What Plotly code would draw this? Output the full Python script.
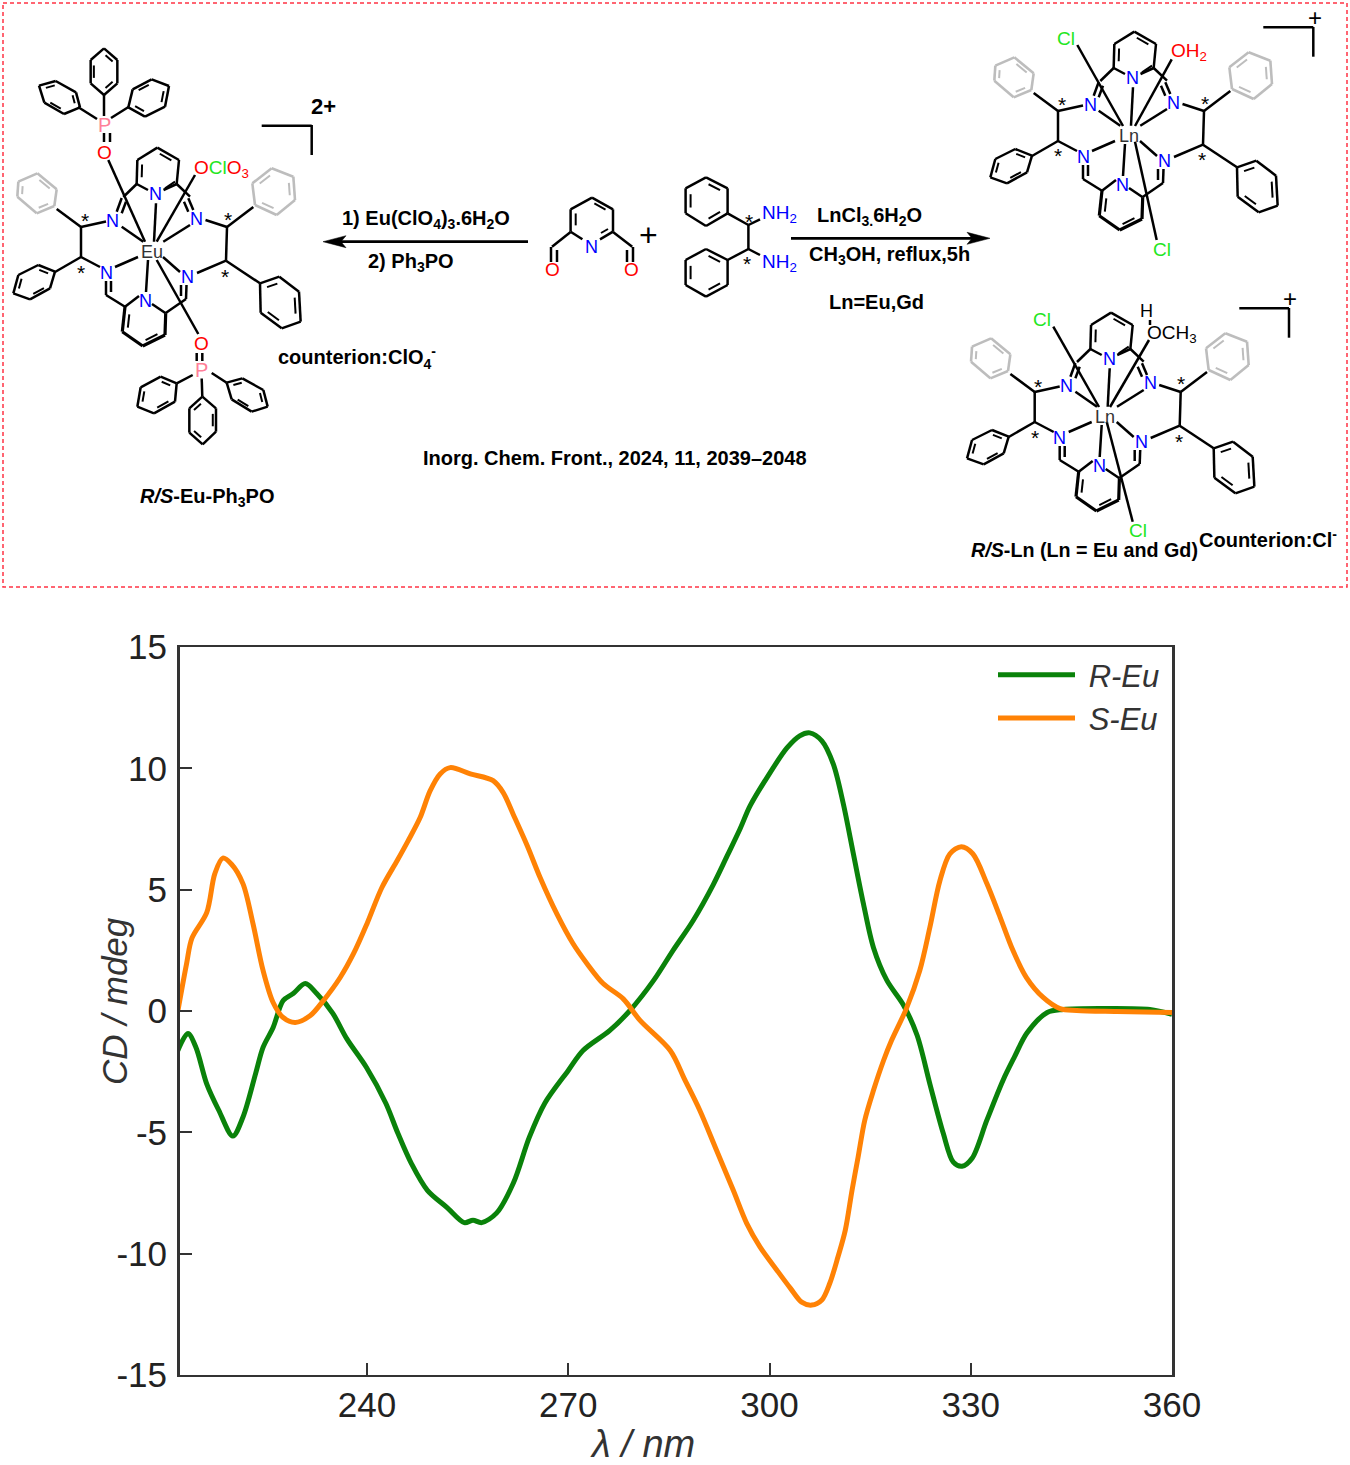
import plotly.graph_objects as go

W, H = 1350, 1465

# CD spectra
WAVELENGTH_R = [211.8, 213.3, 214.5, 216.1, 217.9, 220.0, 221.5, 223.4, 224.5, 226.0, 227.5, 229.0, 230.8, 232.5,
                234.9, 237.0, 239.9, 242.8, 244.6, 246.6, 249.0, 251.9, 254.5, 255.8, 257.1, 259.3, 261.8, 264.2, 266.5,
                270.0, 272.2, 276.2, 279.2, 282.7, 285.6, 288.6, 291.6, 293.7, 295.6, 297.1, 299.6, 302.6,
                304.5, 306.0, 307.8, 309.5, 311.0, 312.5, 314.0, 315.5, 317.5, 320.0, 322.0, 323.9, 325.9, 327.4,
                328.7, 330.2, 332.4, 334.8, 336.5, 338.4, 341.4, 343.8, 349.3, 356.7, 360.0]
CD_R = [-1.63, -0.93, -1.5, -3.0, -4.09, -5.15, -4.38, -2.57, -1.5, -0.68, 0.43, 0.72, 1.13, 0.72,
        -0.1, -1.15, -2.32, -3.8, -5.04, -6.28, -7.39, -8.09, -8.72, -8.62, -8.72, -8.33, -7.1, -5.2, -3.8,
        -2.45, -1.63, -0.8, 0.02, 1.25, 2.49, 3.72, 5.2, 6.4, 7.5, 8.45, 9.61, 10.84,
        11.34, 11.46, 11.13, 10.18, 8.54, 6.48, 4.42, 2.61, 1.26, 0.23, -1.0, -3.0, -5.04, -6.23,
        -6.4, -6.07, -4.5, -2.86, -1.9, -0.9, -0.06, 0.06, 0.1, 0.06, -0.14]

WAVELENGTH_S = [211.8, 213.1, 213.9, 216.1, 217.3, 218.5, 219.8, 221.5, 223.0, 224.5, 226.0, 227.5, 229.3, 231.5,
                233.5, 236.0, 238.0, 240.0, 242.2, 244.5, 246.1, 247.9, 249.4, 250.9, 252.4, 255.4, 258.8, 260.3,
                261.8, 263.9, 265.8, 268.3, 270.7, 272.8, 275.2, 278.2, 280.7, 285.2, 287.4, 289.6, 292.1,
                294.6, 296.6, 298.6, 301.1, 303.1, 304.8, 306.3, 307.8, 309.0, 310.2, 311.3, 312.3, 313.2, 314.2,
                315.5, 317.0, 318.2, 320.4, 322.4, 323.9, 325.4, 326.9, 328.6, 330.3, 332.4, 334.4, 336.3, 338.3,
                340.8, 343.3, 345.8, 351.8, 360.0]
CD_S = [0.0, 1.95, 3.0, 4.05, 5.65, 6.3, 6.05, 5.25, 3.6, 1.67, 0.35, -0.27, -0.47, -0.2,
        0.43, 1.38, 2.37, 3.6, 5.08, 6.2, 7.0, 7.96, 9.07, 9.77, 10.03, 9.77, 9.49, 9.0,
        8.1, 6.8, 5.5, 4.0, 2.78, 1.95, 1.13, 0.5, -0.39, -1.63, -2.85, -4.09, -5.74,
        -7.39, -8.75, -9.73, -10.68, -11.42, -12.0, -12.12, -11.91, -11.21, -10.14, -9.03, -7.39, -6.03, -4.5,
        -3.27, -2.04, -1.21, 0.1, 1.67, 3.44, 5.37, 6.48, 6.77, 6.48, 5.25, 3.85, 2.49, 1.38,
        0.56, 0.1, 0.02, -0.02, -0.06]

X_TICKS = [240, 270, 300, 330, 360]
X_TICK_LABELS = ["240", "270", "300", "330", "360"]
Y_TICKS = [-15, -10, -5, 0, 5, 10, 15]
Y_TICK_LABELS = ["-15", "-10", "-5", "0", "5", "10", "15"]

GREEN = "#0a820a"
ORANGE = "#ff8205"
BLUE = "#0000ff"
RED = "#ff0000"
LIME = "#22e622"
PINK = "#ff8098"
GRAY = "#bdbdbd"
FONT = "Liberation Sans"
BOND = 2.5


def px(x):
    return x / W


def py(y):
    return 1 - y / H


shapes = []
annotations = []


def bond(x0, y0, x1, y1, color="black", width=BOND):
    shapes.append(dict(type="line", xref="paper", yref="paper",
                       x0=px(x0), y0=py(y0), x1=px(x1), y1=py(y1),
                       line=dict(color=color, width=width)))


def ring(verts, doubles=(0, 2, 4), color="black", width=BOND, closed=True):
    """Draw a hexagon from its vertices, with inner lines on the given edges."""
    cx = sum(v[0] for v in verts) / len(verts)
    cy = sum(v[1] for v in verts) / len(verts)
    n = len(verts)
    edges = n if closed else n - 1
    for i in range(edges):
        a, b = verts[i], verts[(i + 1) % n]
        bond(a[0], a[1], b[0], b[1], color, width)
    for i in doubles:
        a, b = verts[i], verts[(i + 1) % n]
        a2 = (cx + (a[0] - cx) * 0.76, cy + (a[1] - cy) * 0.76)
        b2 = (cx + (b[0] - cx) * 0.76, cy + (b[1] - cy) * 0.76)
        ma = (a2[0] * 0.85 + b2[0] * 0.15, a2[1] * 0.85 + b2[1] * 0.15)
        mb = (a2[0] * 0.15 + b2[0] * 0.85, a2[1] * 0.15 + b2[1] * 0.85)
        bond(ma[0], ma[1], mb[0], mb[1], color, min(width, BOND) * 0.8)


def label(x, y, text, size=18, color="black", anchor="center", bold=False):
    if bold:
        text = "<b>" + text + "</b>"
    annotations.append(dict(x=px(x), y=py(y), xref="paper", yref="paper", text=text, showarrow=False,
                            xanchor=anchor, yanchor="middle", align="left",
                            borderpad=0, font=dict(family=FONT, size=size, color=color)))


def arrow_head(tx, ty, direction):
    # filled notched head, direction is +1 for right and -1 for left
    pts = [(tx, ty), (tx - direction * 23, ty - 6), (tx - direction * 18, ty), (tx - direction * 23, ty + 6)]
    path = "M" + " L".join(f"{px(a):.5f},{py(b):.5f}" for a, b in pts) + " Z"
    shapes.append(dict(type="path", xref="paper", yref="paper", path=path,
                       fillcolor="black", line=dict(color="black", width=0.5)))


def third(pts, oy=0.0):
    # zoomed reading -> page pixels
    return [(a / 3, oy + b / 3) for a, b in pts]


def macrocycle(dx, dy, metal):
    """The Schiff-base ring. Coordinates read on the Eu complex, shifted for the others."""
    def s(pts):
        return [(a + dx, b + dy) for a, b in pts]

    def b(x0, y0, x1, y1, color="black", width=BOND):
        bond(x0 + dx, y0 + dy, x1 + dx, y1 + dy, color, width)

    # top pyridine
    ring(s(third([(410, 552), (412, 480), (472, 443), (537, 480), (530, 552)])), doubles=(0, 2), closed=False)
    b(136.7, 184, 148, 190)
    b(176.7, 184, 163.5, 190)
    b(175, 181.7, 165, 188.3, width=2)
    # imines, top
    b(136.7, 184, 123.3, 197)
    b(121.7, 198, 116.7, 211.7)
    b(126, 201.7, 121.7, 213.3)
    b(176.7, 184, 190, 196.7)
    b(188.3, 198.3, 193.3, 210)
    b(184, 201.7, 188.3, 211.7)
    # grey phenyls
    ring(s(third([(52, 590), (55, 545), (112, 520), (170, 568), (163, 618), (110, 640)])), color=GRAY, width=2.6)
    ring(s(third([(757, 550), (815, 505), (880, 530), (885, 600), (830, 645), (765, 615)])), color=GRAY, width=2.6)
    # backbone
    b(56.7, 209, 81, 227)
    b(81, 227, 106, 221.5)
    b(81, 227, 81, 257)
    b(81, 257, 100, 267)
    b(81, 257, 55, 272)
    b(227, 227, 205.5, 220)
    b(227, 227, 226, 260.7)
    b(227, 227, 253.3, 207)
    b(226, 260.7, 197, 273)
    b(226, 260.7, 260, 283.3)
    # black phenyls
    ring(s(third([(165, 815), (115, 795), (55, 825), (40, 880), (90, 898), (150, 865)])))
    ring(s(third([(780, 850), (838, 830), (897, 875), (902, 965), (845, 985), (782, 938)])))
    # lower imines and pyridine
    b(106, 281, 106, 295)
    b(111, 281, 111, 292)
    b(106, 295, 125, 306.7)
    b(186.5, 285, 186, 299)
    b(181, 285, 181, 296)
    b(186, 299, 165.7, 313)
    ring(s([(125, 306.7), (122.3, 331.7), (142.7, 346), (165, 335), (165.7, 313.3)]), doubles=(0, 2), width=3.2, closed=False)
    b(125, 306.7, 139, 296)
    b(165.7, 313.3, 152, 304)
    # metal to ring nitrogens
    b(121.7, 226.7, 143.3, 241.7)
    b(156, 203.3, 154, 241.7)
    b(190, 225, 163.3, 241.7)
    b(115, 267, 138, 257)
    b(163, 257, 180, 272)
    b(148, 260, 146, 292)
    # labels
    for x, y in [(155.7, 194), (113, 220.7), (196.7, 218.5), (106, 273), (187.3, 277.3), (145.5, 300.7)]:
        label(x + dx, y + dy, "N", 18, BLUE)
    for x, y in [(84.5, 221), (227.5, 219), (81, 272), (225, 276)]:
        label(x + dx, y + dy, "*", 21)
    label(151.5 + dx, 252 + dy, metal, 18, "#333333")


# frame of the scheme
shapes.append(dict(type="rect", xref="paper", yref="paper", x0=px(3), y0=py(3), x1=px(1347), y1=py(587),
                   line=dict(color="#ff3344", width=1.5, dash="4px,3px")))

# Eu-Ph3PO complex
macrocycle(0, 0, "Eu")
ring(third([(312, 145), (352, 180), (352, 250), (312, 285), (272, 250), (272, 180)]), doubles=(0, 2, 4))
ring(third([(117, 257), (167, 243), (228, 277), (240, 322), (192, 342), (133, 308)]), doubles=(0, 2, 4))
ring(third([(385, 322), (435, 350), (495, 320), (507, 258), (455, 238), (398, 268)]), doubles=(0, 2, 4))
bond(104, 95, 104, 116)
bond(78, 107, 97, 119)
bond(128.5, 107, 111, 118)
bond(104, 133, 104, 142)
bond(110, 133, 110, 142)
bond(108.3, 160, 145, 241.7)
bond(195, 175, 156.7, 241.7)
bond(156.7, 260, 198.3, 334)
label(104, 125, "P", 20, PINK)
label(104, 152.5, "O", 19, RED)
label(193, 169, f'<span style="color:{RED}">O</span><span style="color:{LIME}">Cl</span>'
      f'<span style="color:{RED}">O<sub>3</sub></span>', 19, anchor="left")
bond(261.7, 125.7, 311.7, 125.7)
bond(311.7, 125, 311.7, 155)
label(323, 106, "2+", 22, bold=True)

ring(third([(530, 280), (482, 260), (422, 292), (412, 350), (462, 370), (525, 335)], 290), doubles=(0, 2, 4))
ring(third([(680, 278), (727, 265), (790, 300), (803, 350), (755, 365), (695, 328)], 290), doubles=(0, 2, 4))
ring(third([(607, 320), (648, 355), (648, 425), (608, 463), (568, 428), (568, 355)], 290), doubles=(1, 3, 5))
bond(192.7, 375, 176.7, 383.3)
bond(211.7, 373, 226.7, 382.7)
bond(201.7, 378.5, 202.3, 396.7)
bond(196.7, 353, 196.7, 361)
bond(202.3, 353, 202.3, 361)
label(201.7, 343, "O", 19, RED)
label(201.7, 370, "P", 20, PINK)

# Ln complex with Cl / OH2
macrocycle(977, -116, "Ln")
bond(1077.3, 45, 1123, 126)
bond(1171.7, 59.3, 1135, 126)
bond(1135, 141.7, 1156.7, 240)
label(1066, 38.5, "Cl", 19, LIME)
label(1169.5, 52, "OH<sub>2</sub>", 19, RED, anchor="left")
label(1161.5, 249.5, "Cl", 19, LIME)
bond(1263.3, 27.3, 1313.3, 27.3)
bond(1313.3, 27, 1313.3, 56.7)
label(1314.5, 17.5, "+", 24)

# Ln complex with Cl / CH3OH
macrocycle(953.7, 165, "Ln")
bond(1053.3, 326.7, 1099, 407)
bond(1149, 340, 1110, 407)
bond(1106.7, 421.7, 1132.7, 521.7)
bond(1150, 320, 1150, 325)
label(1041.5, 319.5, "Cl", 19, LIME)
label(1146.5, 311, "H", 18)
label(1145.5, 334, "OCH<sub>3</sub>", 19, anchor="left")
label(1137.5, 530, "Cl", 19, LIME)
bond(1239.3, 308.3, 1289, 308.3)
bond(1289, 308, 1289, 337.7)
label(1289.5, 299, "+", 24)

# pyridine dialdehyde
ring([(570.6, 231.7), (570.6, 209.3), (592, 197.7), (613, 209.3), (613, 231.7)], doubles=(0, 2), closed=False)
bond(570.6, 231.7, 582.4, 239.3)
bond(613, 231.7, 600, 239.3)
bond(608, 229, 601, 233, width=2)
bond(570.6, 232, 552, 246.7)
bond(613, 232, 632.2, 246.7)
bond(551, 247, 551, 262)
bond(557, 250, 557, 262)
bond(633, 247, 633, 262)
bond(627, 250, 627, 262)
label(591, 246.5, "N", 18, BLUE)
label(552, 270, "O", 19, RED)
label(631, 270, "O", 19, RED)
label(648.5, 235, "+", 32)

# diphenylethylenediamine
ring([(706, 177.3), (727.6, 188.3), (727.6, 213.3), (706, 226), (685.6, 213.3), (685.6, 188.3)], doubles=(0, 2, 4))
ring([(706, 249), (727.6, 260), (727.6, 285), (706, 296.7), (685.6, 285), (685.6, 260)], doubles=(0, 2, 4))
bond(727.6, 213.3, 748.4, 225)
bond(748.4, 225, 748.4, 249)
bond(748.4, 249, 727.6, 260)
bond(748.4, 225, 760, 219.3)
bond(748.4, 249, 760, 255)
label(748.5, 222, "*", 21)
label(747, 263, "*", 21)
label(761, 214.5, "NH<sub>2</sub>", 19, BLUE, anchor="left")
label(761, 262.5, "NH<sub>2</sub>", 19, BLUE, anchor="left")

# reaction arrows
bond(528, 241.7, 335, 241.7, width=2.8)
arrow_head(323, 241.7, -1)
bond(791, 238.3, 975, 238.3, width=2.8)
arrow_head(990, 238.3, 1)

# scheme texts
label(426, 219, "1) Eu(ClO<sub>4</sub>)<sub>3</sub>.6H<sub>2</sub>O", 20, bold=True)
label(411, 262, "2) Ph<sub>3</sub>PO", 20, bold=True)
label(277, 357, "counterion:ClO<sub>4</sub><sup>-</sup>", 20, anchor="left", bold=True)
label(615, 458, "Inorg. Chem. Front., 2024, 11, 2039–2048", 20, bold=True)
label(207, 497, "<i>R/S</i>-Eu-Ph<sub>3</sub>PO", 20, bold=True)
label(869.5, 216, "LnCl<sub>3.</sub>6H<sub>2</sub>O", 20, bold=True)
label(889, 255, "CH<sub>3</sub>OH, reflux,5h", 20, bold=True)
label(876, 302, "Ln=Eu,Gd", 20, bold=True)
label(970, 550, "<i>R/S</i>-Ln (Ln = Eu and Gd)", 19.7, anchor="left", bold=True)
label(1198, 538.5, "Counterion:Cl<sup>-</sup>", 20, anchor="left", bold=True)

# axis titles of the spectrum sit off centre in the original, so they are placed by hand
annotations.append(dict(x=px(642), y=py(1444), xref="paper", yref="paper", text="<i>λ / nm</i>", showarrow=False,
                        xanchor="center", yanchor="middle",
                        font=dict(family=FONT, size=38, color="#333333")))
annotations.append(dict(x=px(114), y=py(1001), xref="paper", yref="paper", text="<i>CD / mdeg</i>", showarrow=False,
                        xanchor="center", yanchor="middle", textangle=-90,
                        font=dict(family=FONT, size=35, color="#333333")))

fig = go.Figure()

fig.add_trace(go.Scatter(
    x=WAVELENGTH_R, y=CD_R, mode="lines", name="\u00a0<i>R-Eu</i>",
    line=dict(color=GREEN, width=5, shape="spline", smoothing=0.9),
))
fig.add_trace(go.Scatter(
    x=WAVELENGTH_S, y=CD_S, mode="lines", name="\u00a0<i>S-Eu</i>",
    line=dict(color=ORANGE, width=5, shape="spline", smoothing=0.9),
))

fig.update_layout(
    width=W,
    height=H,
    margin=dict(l=0, r=0, t=0, b=0),
    paper_bgcolor="white",
    plot_bgcolor="white",
    font=dict(family=FONT, color="#222222"),
    shapes=shapes,
    annotations=annotations,
    legend=dict(x=px(993), y=py(648), xanchor="left", yanchor="top", itemwidth=77,
                bgcolor="rgba(0,0,0,0)", font=dict(size=31, color="#333333")),
    xaxis=dict(
        domain=[px(180), px(1172)], range=[212.12, 360], tickvals=X_TICKS, ticktext=X_TICK_LABELS,
        ticks="inside", ticklen=12, tickwidth=2, tickcolor="#333333",
        showgrid=False, zeroline=False, showline=True, linewidth=2, linecolor="#333333", mirror=True,
        tickfont=dict(size=35, color="#222222"), ticklabelstandoff=-2, automargin=False,
    ),
    yaxis=dict(
        domain=[py(1375), py(647)], range=[-15, 15], tickvals=Y_TICKS, ticktext=Y_TICK_LABELS,
        ticks="inside", ticklen=12, tickwidth=2, tickcolor="#333333",
        showgrid=False, zeroline=False, showline=True, linewidth=3, linecolor="#333333", mirror=True,
        tickfont=dict(size=35, color="#222222"), ticklabelstandoff=3, automargin=False,
    ),
)

fig.write_html("out.html", config={"displayModeBar": False}, post_script="document.body.style.margin='0';")
